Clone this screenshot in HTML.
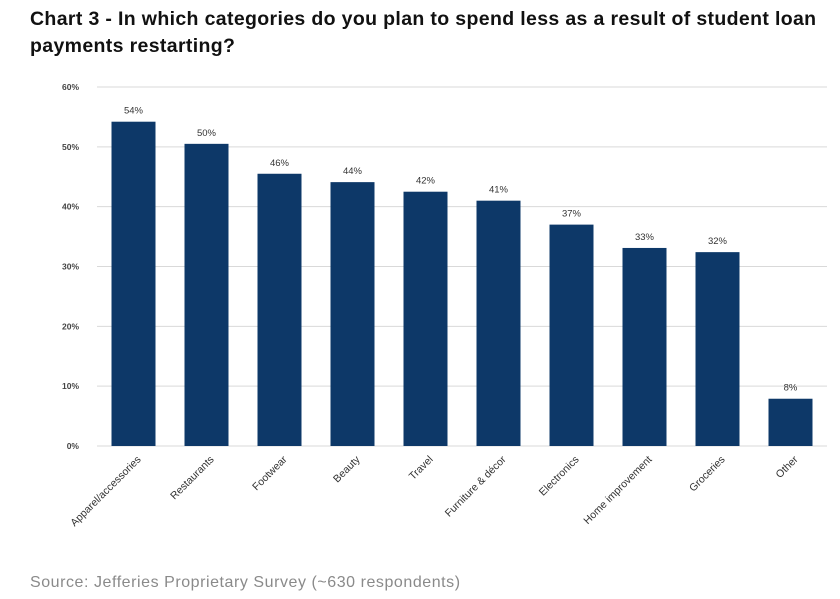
<!DOCTYPE html>
<html><head><meta charset="utf-8"><style>
body{margin:0;background:#fff;width:840px;height:599px;overflow:hidden;font-family:"Liberation Sans",sans-serif}
.title{position:absolute;left:30px;top:6px;font-size:19.5px;font-weight:bold;color:#111;line-height:27px;white-space:nowrap;letter-spacing:0.35px}
.src{position:absolute;left:30px;top:574px;font-size:16px;color:#8a8a8a;letter-spacing:0.55px}
</style></head><body>
<div class="title">Chart 3 - In which categories do you plan to spend less as a result of student loan<br>payments restarting?</div>
<svg id="c" width="840" height="599" style="position:absolute;left:0;top:0"></svg>
<div class="src">Source: Jefferies Proprietary Survey (~630 respondents)</div>
<script>
const categories=["Apparel/accessories","Restaurants","Footwear","Beauty","Travel","Furniture & décor","Electronics","Home improvement","Groceries","Other"];
const values=[54.2,50.5,45.5,44.1,42.5,41,37,33.1,32.4,7.9];
const valueLabels=["54%","50%","46%","44%","42%","41%","37%","33%","32%","8%"];
const yTicks=[0,10,20,30,40,50,60];
const NS="http://www.w3.org/2000/svg",svg=document.getElementById('c');
const x0=97,x1=827,y0=446,y1=87,yMax=60;
const y=v=>y0-(v/yMax)*(y0-y1);
const step=(x1-x0)/categories.length;
const xc=i=>x0+step*(i+0.5);
function mk(t,a){const e=document.createElementNS(NS,t);for(const k in a)e.setAttribute(k,a[k]);svg.appendChild(e);return e;}
yTicks.forEach(t=>{
 const g=mk('line',{x1:x0,x2:x1,y1:y(t),y2:y(t),stroke:'#d9d9d9','stroke-width':1});
 
 
 const l=mk('text',{x:79,y:y(t)+3,'text-anchor':'end','font-size':8.5,'font-weight':'bold',fill:'#444'});
 l.textContent=t+'%';
 
 
});
categories.forEach((c,i)=>{
 const w=44,cx=xc(i);
 const b=mk('rect',{x:cx-w/2,y:y(values[i]),width:w,height:y0-y(values[i]),fill:'#0d3868'});
 
 
 const v=mk('text',{x:cx,y:y(values[i])-8,'text-anchor':'middle','font-size':9.5,fill:'#333'});
 v.textContent=valueLabels[i];
 
 
 const lx=cx+8,ly=460;
 const t=mk('text',{x:lx,y:ly,'text-anchor':'end','font-size':10.5,fill:'#333',transform:`rotate(-45 ${lx} ${ly})`});
 t.textContent=c;
 
 
});
</script>
</body></html>
